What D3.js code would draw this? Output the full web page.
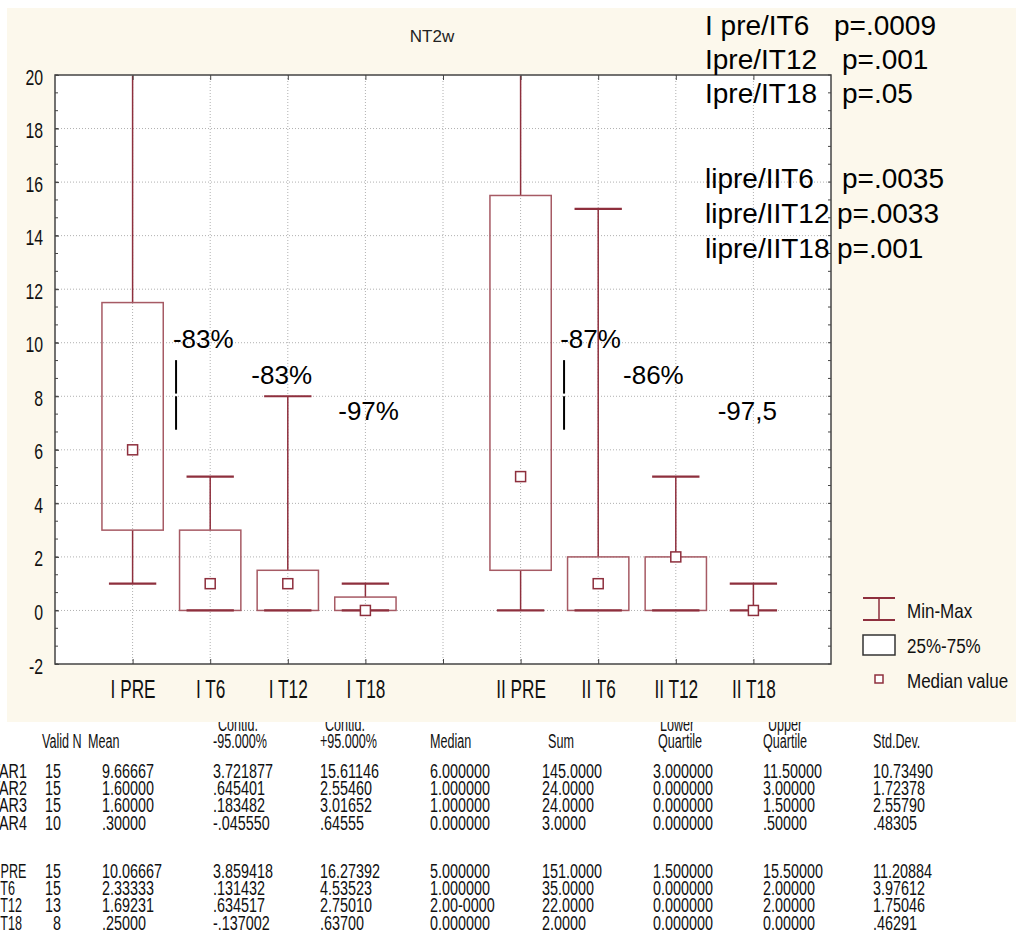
<!DOCTYPE html>
<html>
<head>
<meta charset="utf-8">
<script src="https://cdn.jsdelivr.net/npm/d3@7"></script>
<style>
  body { margin: 0; background: #fff; }
  svg { display: block; }
  text { font-family: "Liberation Sans", Arial, sans-serif; }
</style>
</head>
<body>
<div id="chart"></div>
<script>
// box plot data
const categories = ["I PRE", "I T6", "I T12", "I T18", " ", "II PRE", "II T6", "II T12", "II T18"];
const groups  = ["I PRE", "I T6", "I T12", "I T18", "II PRE", "II T6", "II T12", "II T18"];
const mins    = [1, 0, 0, 0, 0, 0, 0, 0];
const q1s     = [3, 0, 0, 0, 1.5, 0, 0, 0];
const medians = [6, 1, 1, 0, 5, 1, 2, 0];
const q3s     = [11.5, 3, 1.5, 0.5, 15.5, 2, 2, 0];
const maxs    = [20, 5, 8, 1, 20, 15, 5, 1];
const yTicks  = [-2, 0, 2, 4, 6, 8, 10, 12, 14, 16, 18, 20];

// percent-change notes: anchor group, value on y axis
const noteTexts  = ["-83%", "-83%", "-97%", "-87%", "-86%", "-97,5"];
const noteGroups = ["I PRE", "I T6", "I T12", "II PRE", "II T6", "II T12"];
const noteValues = [9.8, 8.45, 7.1, 9.8, 8.45, 7.1];
const barGroups  = ["I PRE", "II PRE"];

const pLabels = ["I pre/IT6", "Ipre/IT12", "Ipre/IT18", "lipre/IIT6", "lipre/IIT12", "lipre/IIT18"];
const pValues = ["p=.0009", "p=.001", "p=.05", "p=.0035", "p=.0033", "p=.001"];

const legendLabels = ["Min-Max", "25%-75%", "Median value"];

// descriptive statistics table
const tableHead1 = ["", "", "", "Contid.", "Contid.", "", "", "Lower", "Upper", ""];
const tableHead2 = ["", "Valid N", "Mean", "-95.000%", "+95.000%", "Median", "Sum", "Quartile", "Quartile", "Std.Dev."];
const rowNames = ["VAR1", "VAR2", "VAR3", "VAR4", "II PRE", "II T6", "II T12", "II T18"];
const rowValues = [
  ["15", "9.66667", "3.721877", "15.61146", "6.000000", "145.0000", "3.000000", "11.50000", "10.73490"],
  ["15", "1.60000", ".645401", "2.55460", "1.000000", "24.0000", "0.000000", "3.00000", "1.72378"],
  ["15", "1.60000", ".183482", "3.01652", "1.000000", "24.0000", "0.000000", "1.50000", "2.55790"],
  ["10", ".30000", "-.045550", ".64555", "0.000000", "3.0000", "0.000000", ".50000", ".48305"],
  ["15", "10.06667", "3.859418", "16.27392", "5.000000", "151.0000", "1.500000", "15.50000", "11.20884"],
  ["15", "2.33333", ".131432", "4.53523", "1.000000", "35.0000", "0.000000", "2.00000", "3.97612"],
  ["13", "1.69231", ".634517", "2.75010", "2.00-0000", "22.0000", "0.000000", "2.00000", "1.75046"],
  ["8", ".25000", "-.137002", ".63700", "0.000000", "2.0000", "0.000000", "0.00000", ".46291"]
];

function init() {
    const W = 1016, H = 945;
    const plot = { left: 55, right: 831, top: 75, bottom: 664 };
    const boxColor = "#a65a64", lineColor = "#8e2f3d";

    const svg = d3.select("#chart").append("svg")
        .attr("width", W).attr("height", H);

    // narrow text helper (the original uses a condensed face)
    function label(g, str, x, y, size, sx, anchor) {
        return g.append("text")
            .attr("transform", `translate(${x},${y}) scale(${sx},1)`)
            .attr("font-size", size)
            .attr("text-anchor", anchor || "start")
            .attr("fill", "#111")
            .text(str);
    }

    // ---- statistics table (drawn first, the cream panel overlaps its top)
    const table = svg.append("g");
    const colX = [null, 61, 102, 213, 320, 430, 542, 653, 763, 873];
    const head1X = [null, null, null, 218, 325, null, null, 660, 768, null];
    const head2X = [null, 42, 88, 213, 320, 430, 548, 658, 763, 873];
    const rowY = [778, 795, 812, 830, 878, 895, 912, 930];
    const tf = 21, tsx = 0.685, hsx = 0.6;
    tableHead1.forEach((t, i) => { if (t) label(table, t, head1X[i], 731, tf, hsx); });
    tableHead2.forEach((t, i) => { if (t) label(table, t, head2X[i], 748, tf, hsx); });
    rowNames.forEach((name, r) => {
        const x0 = r < 4 ? -9.5 : -10;
        label(table, name, x0, rowY[r], tf, r < 4 ? tsx : hsx);
        rowValues[r].forEach((v, c) => {
            label(table, v, colX[c + 1], rowY[r], tf, tsx, c === 0 ? "end" : "start");
        });
    });

    // ---- cream panel and white plot area
    svg.append("rect").attr("x", 7).attr("y", 8).attr("width", W - 7).attr("height", 714)
        .attr("fill", "#fcf8ec");
    svg.append("rect")
        .attr("x", plot.left).attr("y", plot.top)
        .attr("width", plot.right - plot.left).attr("height", plot.bottom - plot.top)
        .attr("fill", "#fff");
    svg.append("clipPath").attr("id", "plotclip").append("rect")
        .attr("x", plot.left).attr("y", plot.top + 1)
        .attr("width", plot.right - plot.left).attr("height", plot.bottom - plot.top - 1);

    // ---- scales
    const x = d3.scalePoint().domain(categories).range([plot.left, plot.right]).padding(1);
    const step = x.step();
    const y = d3.scaleLinear().domain([-2, 20]).range([plot.bottom, plot.top]);

    // grid
    const grid = svg.append("g").attr("stroke", "#b0b0b0").attr("stroke-dasharray", "1,2");
    grid.selectAll("line.h").data(yTicks.slice(1, -1)).enter().append("line")
        .attr("x1", plot.left).attr("x2", plot.right)
        .attr("y1", d => y(d)).attr("y2", d => y(d));
    grid.selectAll("line.v").data(categories).enter().append("line")
        .attr("x1", d => x(d)).attr("x2", d => x(d))
        .attr("y1", plot.top).attr("y2", plot.bottom);

    // ---- boxes
    const boxW = step * 0.79, capW = step * 0.61, med = 10;
    const data = groups.map((g, i) => ({ g, min: mins[i], q1: q1s[i], med: medians[i], q3: q3s[i], max: maxs[i] }));
    const marks = svg.append("g").attr("clip-path", "url(#plotclip)");
    const b = marks.selectAll("g").data(data).enter().append("g");
    b.append("line")
        .attr("x1", d => x(d.g)).attr("x2", d => x(d.g))
        .attr("y1", d => y(d.q3)).attr("y2", d => y(d.max))
        .attr("stroke", lineColor).attr("stroke-width", 1.5);
    b.append("line")
        .attr("x1", d => x(d.g)).attr("x2", d => x(d.g))
        .attr("y1", d => y(d.min)).attr("y2", d => y(d.q1))
        .attr("stroke", lineColor).attr("stroke-width", 1.5);
    b.append("rect")
        .attr("x", d => x(d.g) - boxW / 2).attr("y", d => y(d.q3))
        .attr("width", boxW).attr("height", d => y(d.q1) - y(d.q3))
        .attr("fill", "none").attr("stroke", boxColor).attr("stroke-width", 1.5);
    ["min", "max"].forEach(k => {
        b.append("line")
            .attr("x1", d => x(d.g) - capW / 2).attr("x2", d => x(d.g) + capW / 2)
            .attr("y1", d => y(d[k])).attr("y2", d => y(d[k]))
            .attr("stroke", lineColor).attr("stroke-width", 2.2);
    });
    b.append("rect")
        .attr("x", d => x(d.g) - med / 2).attr("y", d => y(d.med) - med / 2)
        .attr("width", med).attr("height", med)
        .attr("fill", "#fff").attr("stroke", lineColor).attr("stroke-width", 1.5);

    // ---- axes
    const axisColor = "#444";
    const yAxis = svg.append("g").attr("transform", `translate(${plot.left},0)`)
        .call(d3.axisLeft(y).tickValues(yTicks).tickFormat(d => String(d))
            .tickSizeInner(-4).tickSizeOuter(0).tickPadding(12));
    const ySx = 0.72;
    yAxis.selectAll("text")
        .attr("font-size", 22).attr("fill", "#111")
        .attr("x", -12 / ySx).attr("dy", "0.41em")
        .attr("transform", `scale(${ySx},1)`);
    yAxis.select(".domain").remove();

    // minor ticks, every third of a major step, on both sides
    const minor = d3.range(-2, 20.01, 2 / 3);
    const mt = svg.append("g").attr("stroke", axisColor);
    mt.selectAll("line.l").data(minor).enter().append("line")
        .attr("x1", plot.left).attr("x2", plot.left + 3)
        .attr("y1", d => y(d)).attr("y2", d => y(d));
    mt.selectAll("line.r").data(minor).enter().append("line")
        .attr("x1", plot.right).attr("x2", plot.right - 3)
        .attr("y1", d => y(d)).attr("y2", d => y(d));

    const xAxis = svg.append("g").attr("transform", `translate(0,${plot.bottom})`)
        .call(d3.axisBottom(x).tickSizeInner(-5).tickSizeOuter(0).tickPadding(16));
    const xSx = 0.69;
    xAxis.selectAll("text")
        .attr("font-size", 25).attr("fill", "#111")
        .attr("transform", `scale(${xSx},1)`);
    xAxis.select(".domain").remove();
    svg.append("g").attr("transform", `translate(0,${plot.top})`)
        .call(d3.axisTop(x).tickSizeInner(-5).tickSizeOuter(0).tickFormat(""))
        .select(".domain").remove();
    svg.selectAll(".tick line").attr("stroke", axisColor);

    // frame
    svg.append("rect")
        .attr("x", plot.left).attr("y", plot.top)
        .attr("width", plot.right - plot.left).attr("height", plot.bottom - plot.top)
        .attr("fill", "none").attr("stroke", axisColor).attr("stroke-width", 1.5);

    // ---- title
    svg.append("text").attr("x", 432).attr("y", 42).attr("text-anchor", "middle")
        .attr("font-size", 17).attr("fill", "#222").text("NT2w");

    // ---- percent notes
    const noteDx = [0.52, 0.53, 0.65, 0.51, 0.32, 0.54];
    noteTexts.forEach((t, i) => {
        svg.append("text")
            .attr("x", x(noteGroups[i]) + noteDx[i] * step)
            .attr("y", y(noteValues[i]))
            .attr("font-size", 26).attr("fill", "#000").text(t);
    });
    barGroups.forEach(g => {
        const bx = x(g) + 0.56 * step;
        [[9.35, 8.1], [8.0, 6.75]].forEach(([a, c]) => {
            svg.append("line")
                .attr("x1", bx).attr("x2", bx)
                .attr("y1", y(a)).attr("y2", y(c))
                .attr("stroke", "#000").attr("stroke-width", 2);
        });
    });

    // ---- p values
    const pY = [35, 69, 103, 188, 223, 258];
    const pX = [834, 842, 842, 842, 837, 837];
    pLabels.forEach((t, i) => {
        svg.append("text").attr("x", 705).attr("y", pY[i])
            .attr("font-size", 28).attr("fill", "#000").text(t);
        svg.append("text").attr("x", pX[i]).attr("y", pY[i])
            .attr("font-size", 28).attr("fill", "#000").text(pValues[i]);
    });

    // ---- legend
    const lg = svg.append("g");
    const lx = 863, lw = 32;
    lg.append("line").attr("x1", lx).attr("x2", lx + lw).attr("y1", 598).attr("y2", 598)
        .attr("stroke", lineColor).attr("stroke-width", 2);
    lg.append("line").attr("x1", lx).attr("x2", lx + lw).attr("y1", 620).attr("y2", 620)
        .attr("stroke", lineColor).attr("stroke-width", 2);
    lg.append("line").attr("x1", lx + lw / 2).attr("x2", lx + lw / 2).attr("y1", 598).attr("y2", 620)
        .attr("stroke", lineColor).attr("stroke-width", 1.5);
    lg.append("rect").attr("x", lx).attr("y", 635).attr("width", lw).attr("height", 20)
        .attr("fill", "#fff").attr("stroke", "#333").attr("stroke-width", 1.5);
    lg.append("rect").attr("x", lx + 12).attr("y", 675).attr("width", 8).attr("height", 8)
        .attr("fill", "#fff").attr("stroke", lineColor).attr("stroke-width", 1.5);
    const lyBase = [618, 653, 688];
    legendLabels.forEach((t, i) => label(lg, t, 907, lyBase[i], 21, 0.81));
}

window.onload = init;
</script>
</body>
</html>
